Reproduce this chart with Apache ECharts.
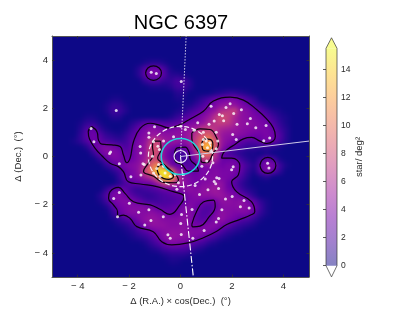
<!DOCTYPE html>
<html>
<head>
<meta charset="utf-8">
<style>
html,body{margin:0;padding:0;background:#fff;}
#c{width:415px;height:312px;position:relative;isolation:isolate;}
</style>
<script src="https://cdn.jsdelivr.net/npm/echarts@6/dist/echarts.min.js"></script>
</head>
<body>
<div id="c"></div>
<script>
// Density: one char per 0.25 deg cell, top row first; code = position in densityCodes
const densityCodes = '0123456789abcdefghijklmnopqrstuvwxyzABCDEFGHIJKLMNOPQRSTUVWXYZ';
const densityPerCode = 1/2.6;
const densityRows = [
"0000000000 0000000000 0000000000 0000000000",
"0000000000 0000000000 0000000000 0000000000",
"0000000000 0000000000 0000000000 0000000000",
"0000000000 0000000000 0000000000 0000000000",
"0000000000 0000122100 0000000000 0000000000",
"0000000000 0002699510 0000000000 0000000000",
"0000000000 00027aa622 1000000000 0000000000",
"0000000000 0000355335 5200000000 0000000000",
"0000000000 0000011124 4200000000 0000000000",
"0000000000 0000000002 2000012332 1000000000",
"0000000001 1000000001 1013589aa8 5300000000",
"0000000013 3100000000 11358acdca 8531000000",
"0000000014 4200000001 2468bdhikc b974210000",
"0000011002 2000000013 579bdimjfc ba97421000",
"0000133100 0024787667 9abcgijifc cba9631000",
"0000268310 0148acbaab cdfjjhfedc bbaa842000",
"0000379632 1369bddccc ceimoidccb a99a962000",
"0001369754 347acjkedd cekqvmdb97 668a852000",
"0000027aba 858bdllca8 8bjxzmc975 3333210000",
"00000038bb a78bdllb74 48fpqh8532 1101000000",
"000000037a a79bekkb85 36bjkf8884 2148510000",
"0000000036 9abchotl97 757aba9aa8 427ba41000",
"0000000002 48aclrCFvd a88aabaaa7 317a730000",
"0000000000 38abehqDAl ca9abbaa85 2012000000",
"0000000000 257889dkif ca9bbdc863 1000000000",
"0000000037 974345689a bcbcdec984 2100000000",
"000000026a b964334567 8abccddba8 5200000000",
"0000000149 aba8544556 7aa989ccbc a731000000",
"0000000015 9abbba7678 ab9658bbbc b941000000",
"0000000003 7abbbcba89 bb856acbaa a731000000",
"0000000001 357acdcbbb cb768bca96 5310000000",
"0000000000 1247acccbb ca9abb9743 2100000000",
"0000000000 012468abcc cbbba85321 0000000000",
"0000000000 0012358bdc cba8642100 0000000000",
"0000000000 00001358aa 9754210000 0000000000",
"0000000000 0000012455 5421000000 0000000000",
"0000000000 0000000122 2100000000 0000000000",
"0000000000 0000000011 0000000000 0000000000",
"0000000000 0000000000 0000000000 0000000000",
"0000000000 0000000000 0000000000 0000000000"
];
const stars = [[-1.14,3.5],[-.94,3.44],[.03,3.11],[-2.5,1.91],[1.19,2.09],[1.93,2.19],[1.77,2.03],[2.37,1.94],[2.07,1.78],[1.51,1.74],[1.63,1.69],[1.31,1.47],[1.68,1.48],[2.72,1.58],[2.2,1.34],[2.6,1.36],[2.93,1.19],[3.33,1.29],[1.11,1.34],[.67,1.4],[.19,1.12],[-1.01,1.23],[-1.23,.98],[-1.23,.8],[-3.48,1.16],[-3.37,.61],[-2.72,.19],[-2.76,.12],[-2.38,-.3],[-1.93,-.84],[-1.57,.41],[-1.55,.15],[-1.46,-.3],[-1.54,-.77],[2.03,.91],[2.17,.71],[3.24,.65],[3.47,.77],[3.39,-.28],[3.44,-.48],[2.05,-.43],[1.99,-.55],[1.5,-.91],[1.31,-1.04],[1.37,-1.13],[1.48,-1.33],[1.07,-1.38],[.74,-1.58],[-.14,-1.36],[2.01,-1.66],[1.75,-1.76],[2.47,-1.83],[2.33,-2.09],[2.67,-2.14],[-2.38,-1.49],[-2.6,-1.74],[-1.99,-1.94],[-2.45,-2.5],[-1.63,-2.31],[-1.23,-2.21],[-.67,-2.5],[-1.15,-2.66],[-1.39,-2.84],[.04,-2.41],[.45,-2.2],[.01,-2.78],[1.61,-2.21],[1.48,-2.57],[1.39,-2.72],[.92,-3.07],[-.49,-3.25],[-.4,-3.39],[.03,-3.24],[.48,-3.39],[-.27,.82],[.01,1.26],[-.66,.64],[-1.05,.61],[-.88,.43],[-.82,.29],[-1.09,.01],[.53,1.09],[.89,1.01],[1.39,1.01],[.89,.71],[.85,.5],[1,.64],[1.05,.36],[1.15,.57],[1.45,.64],[1.39,.32],[1.18,.22],[.87,.01],[.83,-.4],[1.02,-.19],[1.26,-.26],[-.85,-.33],[-.92,-.5],[-.66,-.4],[-.6,-.68],[-.79,-.82],[-.4,-.82],[-.21,-.75],[-1.05,-.68],[-1.41,-.33],[.12,-.75],[-.08,-1.09],[.57,-1.2],[.96,-.93],[1.41,-.88]];
const contourMain = [[-3.45,1.24],[-3.25,1.03],[-3.19,.68],[-3.06,.51],[-2.67,.48],[-2.35,.41],[-2.22,.06],[-2.09,-.26],[-1.96,-.07],[-1.83,.61],[-1.57,1.17],[-1.18,1.38],[-.79,1.29],[-.47,1.19],[-.01,1.33],[.38,1.56],[.89,1.88],[1.28,2.3],[1.93,2.46],[2.45,2.34],[2.96,1.95],[3.35,1.56],[3.61,1.19],[3.69,.84],[3.61,.64],[3.35,.54],[3.09,.64],[2.77,.79],[2.45,.73],[2.12,.5],[1.86,.32],[1.67,.15],[1.6,-.07],[1.99,-.07],[2.31,-.38],[2.25,-.77],[1.99,-1.05],[2.18,-1.46],[2.76,-1.87],[2.89,-2.29],[2.77,-2.41],[2.32,-2.61],[1.8,-2.82],[1.41,-3.1],[.89,-3.37],[.31,-3.58],[-.34,-3.67],[-.73,-3.54],[-1.06,-3.12],[-1.7,-2.91],[-1.96,-2.57],[-2.22,-2.43],[-2.45,-2.5],[-2.45,-2.29],[-2.61,-2.01],[-2.8,-1.73],[-2.74,-1.46],[-2.41,-1.28],[-2.16,-1.53],[-1.83,-1.88],[-1.18,-2.01],[-.8,-2.19],[-.41,-2.4],[-.02,-2.01],[.14,-1.67],[.05,-1.56],[-.28,-1.46],[-.92,-1.25],[-1.57,-1.14],[-2.03,-1.05],[-2.22,-.63],[-2.42,-.42],[-2.74,-.28],[-3.06,.03],[-3.32,.34],[-3.54,.73],[-3.59,1.03],[-3.45,1.24]];
const contourSouthHole = [[.44,-2.82],[.63,-2.27],[.89,-1.89],[1.28,-1.81],[1.35,-2.06],[1.09,-2.54],[.76,-2.89],[.48,-2.92],[.44,-2.82]];
const contourCentreHole = [[-.23,.15],[-.12,.36],[.18,.39],[.34,.15],[.38,-.12],[.63,-.4],[.7,-.61],[.31,-.61],[.05,-.33],[-.21,-.19],[-.23,.15]];
const contourNorthWest = [[-1.36,3.46],[-1.27,3.67],[-1.05,3.76],[-.83,3.67],[-.74,3.46],[-.83,3.25],[-1.05,3.16],[-1.27,3.25],[-1.36,3.46]];
const contourEast = [[3.09,-.37],[3.18,-.14],[3.4,-.04],[3.62,-.14],[3.71,-.37],[3.62,-.6],[3.4,-.7],[3.18,-.6],[3.09,-.37]];
const contourNE8 = [[.44,.98],[.76,1.15],[1.15,1.12],[1.41,.77],[1.48,.5],[1.28,.15],[1.02,-.26],[.83,-.24],[.76,.08],[.5,.5],[.44,.77],[.44,.98]];
const contourNE12 = [[.83,.57],[.96,.73],[1.15,.71],[1.26,.5],[1.15,.22],[.89,.26],[.83,.57]];
const contourSW8 = [[-1.05,.64],[-.79,.64],[-.76,.29],[-.89,-.06],[-.72,-.26],[-.27,-.68],[-.08,-.95],[-.21,-1.09],[-.66,-1.07],[-1.05,-.82],[-1.44,-.61],[-1.24,-.26],[-1.05,.08],[-1.09,.43],[-1.05,.64]];
const contourSW12 = [[-.92,-.47],[-.72,-.33],[-.47,-.54],[-.27,-.82],[-.47,-.95],[-.79,-.82],[-.92,-.47]];
const contours = [contourMain,contourSouthHole,contourCentreHole,contourNorthWest,contourEast,contourNE8,contourNE12,contourSW8,contourSW12];
const lineNorth = [[0,0],[.22,5]];
const lineSouth = [[0,0],[.5,-5]];
const lineEast = [[0,0],[5,.64]];
// circles: centre x, centre y, radius (deg)
const circleInner = [0,0,.25];
const circleCyan = [0,0,.75];
const circleDashed = [0,0,1.25];
const axisMin = -5, axisMax = 5, tickStep = 2;
const colorbarRange = [0,15.5];
const colorbarTips = [-.8,16.25];
const colorbarTicks = [0,2,4,6,8,10,12,14];
const plasma = ['#0d0887','#46039f','#7201a8','#9c179e','#bd3786','#d8576b','#ed7953','#fb9f3a','#fdca26','#f0f921'];

const rows = densityRows.map(r => r.replace(/ /g,''));
const xCats = rows[0].split('').map((_,i) => (-4.875 + .25*i).toFixed(3));
const yCats = rows.map((_,j) => (4.875 - .25*j).toFixed(3));
const cells = [];
rows.forEach((r,j) => r.split('').forEach((ch,i) => cells.push([i,j,densityCodes.indexOf(ch)*densityPerCode])));

const FONT = '"Liberation Sans", Arial, sans-serif';
const INK = '#2a2a2a', SPINE = '#555';
const G = {left:52,right:106,top:36,bottom:35};
const minus = v => String(v).replace('-','\u2212 ');
const tickLabel = {fontFamily:FONT,fontSize:9.5,color:INK,margin:4,formatter:minus};

function valAxis(extra){
  return Object.assign({type:'value',gridIndex:0,min:axisMin,max:axisMax,interval:tickStep,
    splitLine:{show:false},
    axisLine:{show:true,onZero:false,lineStyle:{color:SPINE,width:1}},
    axisTick:{show:true,inside:true,length:2.5,lineStyle:{color:'#333',width:.8},
      customValues:[-4,-2,0,2,4]},
    axisLabel:Object.assign({},tickLabel,{customValues:[-4,-2,0,2,4]})},extra);
}
const noLabel = {axisLabel:{show:false}};

const contourSeries = contours.map(c => ({type:'line',data:c,xAxisIndex:0,yAxisIndex:0,smooth:.45,
  showSymbol:false,symbol:'none',silent:true,z:4,clip:true,lineStyle:{color:'#0a0010',width:1.2}}));

const ref = (data,style,z) => ({type:'line',data,xAxisIndex:0,yAxisIndex:0,showSymbol:false,symbol:'none',
  silent:true,z:z||6,clip:true,lineStyle:style});

const circleStyles = [
  {stroke:'#e8e4f8',lineWidth:1.2},
  {stroke:'#22d8dc',lineWidth:1.5},
  {stroke:'#f8f2fa',lineWidth:1.2,lineDash:[5,2.5]}
];

const chart = echarts.init(document.getElementById('c'),null,{renderer:'canvas'});
chart.setOption({
  animation:false,
  backgroundColor:'transparent',
  title:{text:'NGC 6397',left:176,top:8,textAlign:'center',
    textStyle:{fontFamily:FONT,fontSize:20,fontWeight:'normal',color:'#000'}},
  grid:[
    Object.assign({},G),
    Object.assign({},G),
    {left:326,width:11,top:48.3,height:217.4}
  ],
  xAxis:[
    valAxis({position:'bottom',name:'\u0394 (R.A.) \u00d7 cos(Dec.)  (\u00b0)',nameLocation:'middle',nameGap:18,
      nameTextStyle:{fontFamily:FONT,fontSize:9.5,color:INK}}),
    valAxis(Object.assign({position:'top'},noLabel)),
    {type:'category',gridIndex:1,data:xCats,show:false},
    {type:'value',gridIndex:2,min:0,max:1,show:false}
  ],
  yAxis:[
    valAxis({position:'left',name:'\u0394 (Dec.)  (\u00b0)',nameLocation:'middle',nameRotate:90,nameGap:19,
      nameTextStyle:{fontFamily:FONT,fontSize:9.5,color:INK}}),
    valAxis(Object.assign({position:'right'},noLabel)),
    {type:'category',gridIndex:1,data:yCats,inverse:true,show:false},
    {type:'value',gridIndex:2,min:colorbarRange[0],max:colorbarRange[1],position:'right',
      splitLine:{show:false},axisLine:{show:false},
      axisTick:{show:true,inside:true,length:3,lineStyle:{color:'#333',width:.8},customValues:colorbarTicks},
      axisLabel:{fontFamily:FONT,fontSize:8.5,color:INK,margin:4,customValues:colorbarTicks},
      name:'star/ deg\u00b2',nameLocation:'middle',nameRotate:90,nameGap:16,
      nameTextStyle:{fontFamily:FONT,fontSize:9.5,color:INK}}
  ],
  visualMap:{show:false,type:'continuous',min:colorbarRange[0],max:colorbarRange[1],seriesIndex:0,dimension:2,
    inRange:{color:plasma}},
  series:[
    {type:'heatmap',data:cells,xAxisIndex:2,yAxisIndex:2,zlevel:-1,silent:true,progressive:0,
      itemStyle:{borderWidth:0},emphasis:{disabled:true}},
    {type:'custom',xAxisIndex:3,yAxisIndex:3,silent:true,data:[[0,colorbarRange[0]]],clip:false,
      renderItem:function(p,api){
        const l=api.coord([0,colorbarRange[0]]), h=api.coord([1,colorbarRange[1]]);
        const midX=(l[0]+h[0])/2;
        const tipT=api.coord([0,colorbarTips[1]])[1], tipB=api.coord([0,colorbarTips[0]])[1];
        const border='#333';
        const outline=[[l[0],l[1]],[midX,tipB],[h[0],l[1]],[h[0],h[1]],[midX,tipT],[l[0],h[1]]];
        return {type:'group',children:[
          {type:'rect',shape:{x:l[0],y:h[1],width:h[0]-l[0],height:l[1]-h[1]},
           style:{opacity:.5,fill:new echarts.graphic.LinearGradient(0,1,0,0,
             plasma.map((c,i)=>({offset:i/(plasma.length-1),color:c})))}},
          {type:'polygon',shape:{points:[[l[0],h[1]],[h[0],h[1]],[midX,tipT]]},
           style:{fill:'#f8fc90'}},
          {type:'polygon',shape:{points:outline},style:{fill:'none',stroke:border,lineWidth:.7}}
        ]};
      }},
    ...contourSeries,
    ref(lineNorth,{color:'#e6e2f6',width:.9,type:[1.5,1.5]}),
    ref(lineSouth,{color:'#ffffff',width:1.1,type:[7,2,1.5,2]}),
    ref(lineEast,{color:'#cfcbe8',width:1}),
    {type:'scatter',data:stars,xAxisIndex:0,yAxisIndex:0,symbol:'circle',symbolSize:3,silent:true,z:7,
      itemStyle:{color:'#ffffff'}},
    {type:'custom',xAxisIndex:0,yAxisIndex:0,silent:true,z:8,clip:true,
      data:[circleInner,circleCyan,circleDashed],
      encode:{x:0,y:1},
      renderItem:function(p,api){
        const c=api.coord([api.value(0),api.value(1)]);
        const s=api.size([api.value(2),api.value(2)]);
        return {type:'ellipse',shape:{cx:c[0],cy:c[1],rx:s[0],ry:s[1]},
          style:Object.assign({fill:'none'},circleStyles[p.dataIndex])};
      }}
  ]
});
// Soften the heatmap layer the way the reference's smooth map looks; cells stay library-drawn.
const layer = document.querySelector('#c canvas[data-zr-dom-id="zr_-1"]');
if (layer) {
  layer.style.background = plasma[0];
  layer.style.filter = 'blur(2.6px)';
  layer.style.clipPath = 'inset(36px 106px 35px 52px)';
}
</script>
</body>
</html>
